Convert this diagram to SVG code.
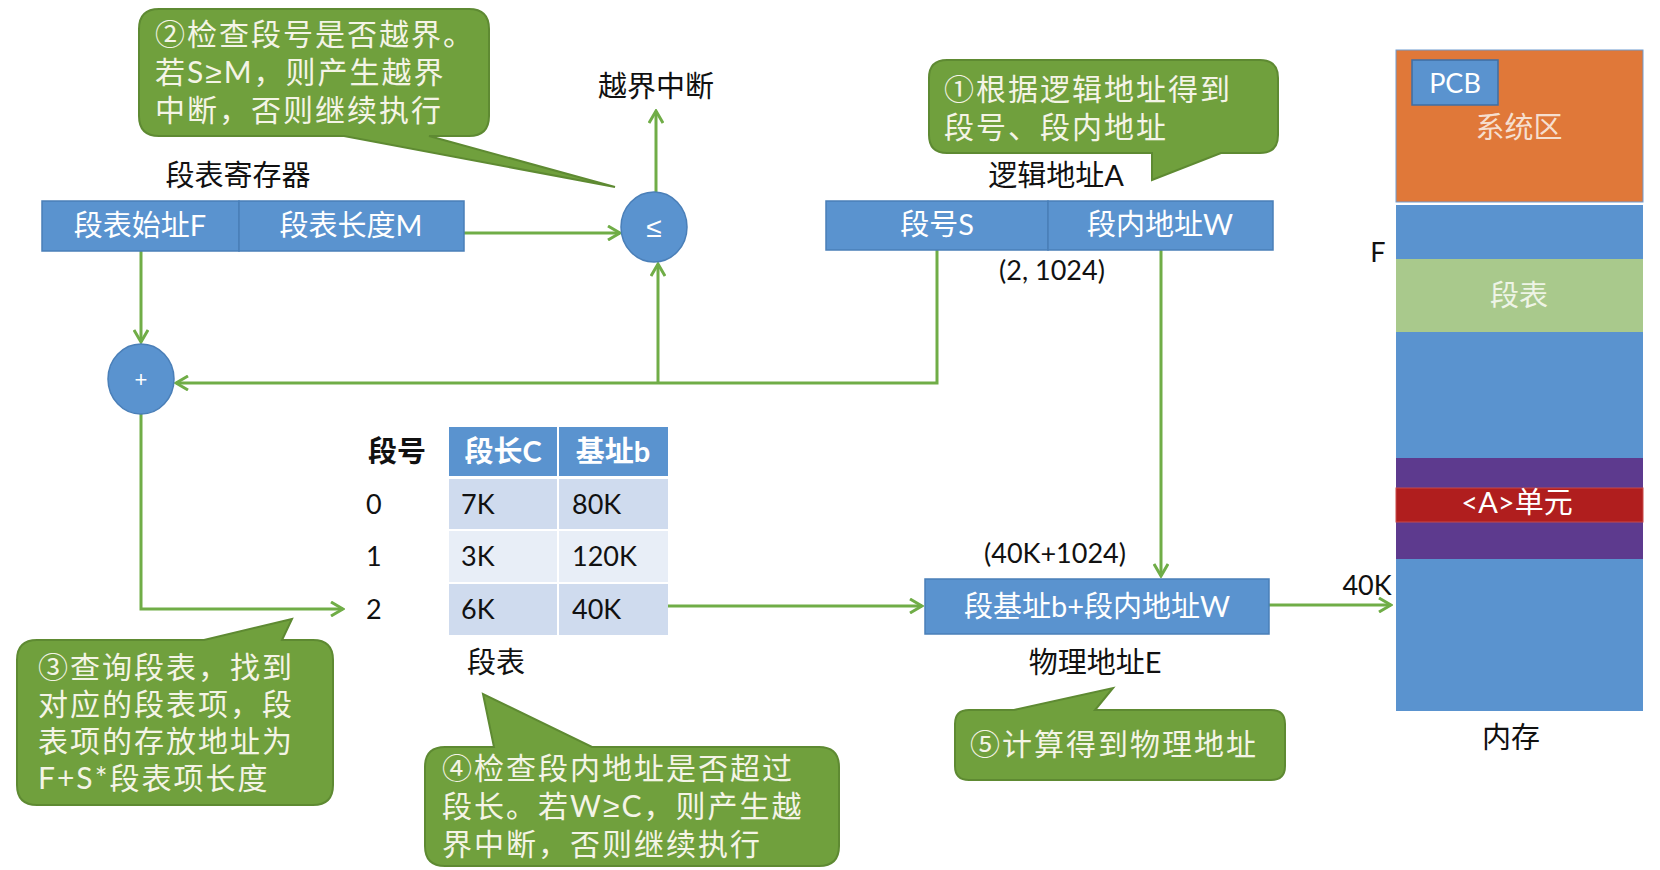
<svg xmlns="http://www.w3.org/2000/svg" width="1660" height="870" viewBox="0 0 1660 870">
<defs>
<marker id="arr" viewBox="0 0 16 16" refX="14" refY="8" markerWidth="16" markerHeight="16" markerUnits="userSpaceOnUse" orient="auto">
<path d="M2,1 L14,8 L2,15" fill="none" stroke="#70ad47" stroke-width="3" stroke-linejoin="miter"/>
</marker>
</defs>
<style>
text{font-family:"Lato","Noto Sans CJK SC",sans-serif;}
.sym{font-family:"Liberation Sans","DejaVu Sans",sans-serif;}
.cjk{font-family:"Noto Sans CJK SC",sans-serif;}
.lbl{font-size:29px;fill:#111;text-anchor:middle;}
.wt{font-size:29px;fill:#fff;text-anchor:middle;}
.cl{font-size:30px;fill:#f4f4e6;letter-spacing:2px;}
.callout{fill:#70a03d;stroke:#5e8a32;stroke-width:2;}
.box{fill:#5a93cf;stroke:#4a7fb8;stroke-width:1.5;}
.conn{fill:none;stroke:#70ad47;stroke-width:3;marker-end:url(#arr);}
.circ{fill:#5a93cf;stroke:#4a7fb8;stroke-width:1.5;}
.cell{font-size:27px;fill:#111;}
</style>
<rect width="1660" height="870" fill="#fff"/>

<g id="connectors">
<path class="conn" d="M464,233 H620"/>
<path class="conn" d="M656,192 V111"/>
<path class="conn" d="M141,251 V342"/>
<path class="conn" d="M937,250 V383 H176"/>
<path class="conn" d="M658,383 V264"/>
<path class="conn" d="M141,414 V609 H343"/>
<path class="conn" d="M668,606 H922"/>
<path class="conn" d="M1161,250 V576"/>
<path class="conn" d="M1269,605 H1391"/>
</g>

<g id="callout2">
<path class="callout" d="M159,9 H469 Q489,9 489,29 V116 Q489,136 469,136 H429 L615,187 L344,136 H159 Q139,136 139,116 V29 Q139,9 159,9 Z"/>
<text class="cl" x="155" y="45"><tspan class="cjk">②</tspan>检查段号是否越界。</text>
<text class="cl" x="155" y="83">若S<tspan class="sym">≥</tspan>M，则产生越界</text>
<text class="cl" x="155" y="121">中断，否则继续执行</text>
</g>

<g id="overflow-label">
<text class="lbl" x="656" y="97">越界中断</text>
</g>

<g id="register">
<text class="lbl" x="238" y="186">段表寄存器</text>
<rect class="box" x="42" y="201" width="197" height="50"/>
<rect class="box" x="239" y="201" width="225" height="50"/>
<text class="wt" x="140" y="236">段表始址F</text>
<text class="wt" x="351" y="236">段表长度M</text>
</g>

<g id="compare">
<ellipse class="circ" cx="654" cy="227" rx="33" ry="35"/>
<text class="sym" x="654" y="237" style="font-size:28px;fill:#fff;text-anchor:middle;">≤</text>
</g>

<g id="adder">
<ellipse class="circ" cx="141" cy="379" rx="33" ry="35"/>
<text class="sym" x="141" y="387" style="font-size:22px;fill:#fff;text-anchor:middle;">+</text>
</g>

<g id="callout1">
<path class="callout" d="M947,60 H1260 Q1278,60 1278,78 V135 Q1278,153 1260,153 H1221 L1152,180 V153 H947 Q929,153 929,135 V78 Q929,60 947,60 Z"/>
<text class="cl" x="944" y="100"><tspan class="cjk">①</tspan>根据逻辑地址得到</text>
<text class="cl" x="944" y="138">段号、段内地址</text>
</g>

<g id="logical-address">
<text class="lbl" x="1056" y="186">逻辑地址A</text>
<rect class="box" x="826" y="201" width="222" height="49"/>
<rect class="box" x="1048" y="201" width="225" height="49"/>
<text class="wt" x="937" y="235">段号S</text>
<text class="wt" x="1160" y="235">段内地址W</text>
<text class="lbl" x="1052" y="280" style="font-size:27px">(2, 1024)</text>
</g>

<g id="segment-table">
<text class="lbl" x="397" y="462" style="font-weight:bold">段号</text>
<rect x="449" y="427" width="108" height="49" fill="#5a93cf"/>
<rect x="559" y="427" width="109" height="49" fill="#5a93cf"/>
<rect x="449" y="479" width="108" height="50" fill="#cfdbee"/>
<rect x="559" y="479" width="109" height="50" fill="#cfdbee"/>
<rect x="449" y="531" width="108" height="51" fill="#e8eef7"/>
<rect x="559" y="531" width="109" height="51" fill="#e8eef7"/>
<rect x="449" y="584" width="108" height="51" fill="#cfdbee"/>
<rect x="559" y="584" width="109" height="51" fill="#cfdbee"/>
<text class="wt" x="503" y="462" style="font-weight:bold">段长C</text>
<text class="wt" x="613" y="462" style="font-weight:bold">基址b</text>
<text class="cell" x="366" y="514">0</text>
<text class="cell" x="366" y="566">1</text>
<text class="cell" x="366" y="619">2</text>
<text class="cell" x="461" y="514">7K</text>
<text class="cell" x="572" y="514">80K</text>
<text class="cell" x="461" y="566">3K</text>
<text class="cell" x="572" y="566">120K</text>
<text class="cell" x="461" y="619">6K</text>
<text class="cell" x="572" y="619">40K</text>
<text class="lbl" x="496" y="673">段表</text>
</g>

<g id="callout3">
<path class="callout" d="M37,640 H204 L292,619 L282,640 H313 Q333,640 333,660 V785 Q333,805 313,805 H37 Q17,805 17,785 V660 Q17,640 37,640 Z"/>
<text class="cl" x="38" y="678"><tspan class="cjk">③</tspan>查询段表，找到</text>
<text class="cl" x="38" y="715">对应的段表项，段</text>
<text class="cl" x="38" y="752">表项的存放地址为</text>
<text class="cl" x="38" y="789">F+S*段表项长度</text>
</g>

<g id="callout4">
<path class="callout" d="M445,747 H494 L483,694 L592,747 H819 Q839,747 839,767 V846 Q839,866 819,866 H445 Q425,866 425,846 V767 Q425,747 445,747 Z"/>
<text class="cl" x="442" y="779"><tspan class="cjk">④</tspan>检查段内地址是否超过</text>
<text class="cl" x="442" y="817">段长。若W<tspan class="sym">≥</tspan>C，则产生越</text>
<text class="cl" x="442" y="855">界中断，否则继续执行</text>
</g>

<g id="physical-address">
<text class="lbl" x="1055" y="563" style="font-size:27px">(40K+1024)</text>
<rect class="box" x="925" y="579" width="344" height="55"/>
<text class="wt" x="1097" y="617">段基址b+段内地址W</text>
<text class="lbl" x="1095" y="673">物理地址E</text>
</g>

<g id="callout5">
<path class="callout" d="M969,710 H1014 L1113,688 L1095,710 H1271 Q1285,710 1285,724 V766 Q1285,780 1271,780 H969 Q955,780 955,766 V724 Q955,710 969,710 Z"/>
<text class="cl" x="970" y="755"><tspan class="cjk">⑤</tspan>计算得到物理地址</text>
</g>

<g id="memory">
<rect x="1396" y="50" width="247" height="152" fill="#e07839" stroke="#6f9bd0" stroke-width="1"/>
<rect x="1396" y="205" width="247" height="506" fill="#5a93cf"/>
<rect x="1396" y="259" width="247" height="73" fill="#a9c98c"/>
<rect x="1396" y="458" width="247" height="101" fill="#5d3a8e"/>
<rect x="1396" y="488" width="247" height="34" fill="#b01e1e" stroke="#c84848" stroke-width="1"/>
<rect x="1412" y="60" width="86" height="45" fill="#5a93cf" stroke="#3f6ea3" stroke-width="1.5"/>
<text class="wt" x="1455" y="93" style="font-size:27px">PCB</text>
<text class="wt" x="1519" y="138" style="fill:#f6dfcf">系统区</text>
<text class="wt" x="1519" y="306" style="fill:#eef4e6">段表</text>
<text class="wt" x="1517" y="513">&lt;A&gt;单元</text>
<text class="lbl" x="1378" y="262" style="font-size:27px">F</text>
<text class="lbl" x="1367" y="595" style="font-size:27px">40K</text>
<text class="lbl" x="1511" y="748">内存</text>
</g>
</svg>
